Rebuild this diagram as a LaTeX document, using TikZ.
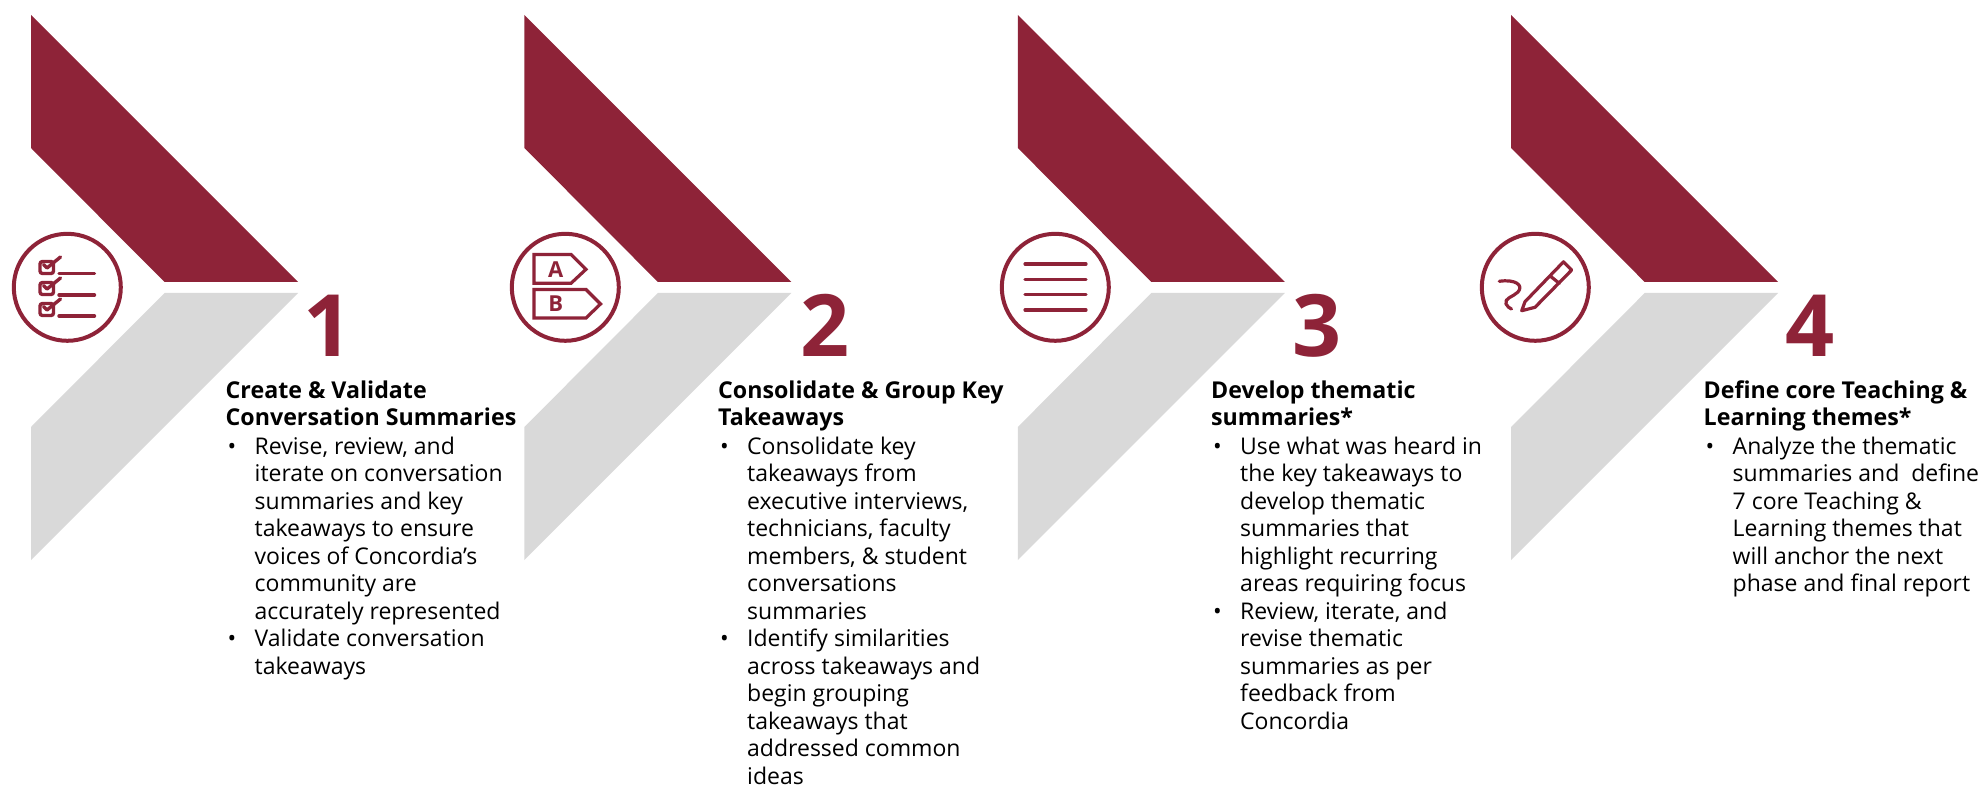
\documentclass[tikz,border=0pt]{standalone}
\usepackage{fontspec}
\setmainfont{Open Sans}
\definecolor{crim}{HTML}{8E2338}
\definecolor{lgray}{HTML}{D9D9D9}
\tikzset{
 x=1pt,y=-1pt,
 ring/.style={draw=crim,line width=4pt,fill=white,circle,minimum size=107pt,inner sep=0pt},
 numb/.style={text=crim,font=\fontsize{86}{86}\selectfont\bfseries,inner sep=0pt,anchor=center},
 body/.style={anchor=north west,inner sep=0pt,text=black,font=\fontsize{23}{27.5}\selectfont,align=left},
 head/.style={anchor=north west,inner sep=0pt,text=black,font=\fontsize{23.2}{27}\selectfont\bfseries,align=left},
 ico/.style={draw=crim,line width=3.2pt,line cap=round,line join=round},
 letter/.style={text=crim,font=\fontsize{22}{22}\selectfont\bfseries,inner sep=0pt},
}
\newcommand{\chev}[1]{%
 \begin{scope}[shift={(#1,0)}]
 \fill[crim] (31,15) -- (298,282) -- (164.5,282) -- (31,148) -- cycle;
 \fill[lgray] (298,293) -- (164.5,293) -- (31,427) -- (31,560) -- cycle;
 \end{scope}}
\newcommand{\bul}{\makebox[29pt][l]{\hspace{2pt}•}}
\newcommand{\ind}{\hspace*{29pt}}
\begin{document}
\begin{tikzpicture}
\path[use as bounding box] (0,0) rectangle (1986,786);
\chev{0}\chev{493.4}\chev{986.8}\chev{1480.2}
\node[ring] (c1) at (67.3,287.3) {};
\node[ring] (c2) at (565.3,287.3) {};
\node[ring] (c3) at (1055.3,287.3) {};
\node[ring] (c4) at (1535.3,287.3) {};
\node[numb] (n1) at (328,325.5) {1};
\node[numb] (n2) at (825.5,325.5) {2};
\node[numb] (n3) at (1317,325.5) {3};
\node[numb] (n4) at (1810,325.5) {4};
\node[head] (t1) at (225.5,380.5) {Create \& Validate\\Conversation Summaries};
\node[head] (t2) at (718,380.5) {Consolidate \& Group Key\\Takeaways};
\node[head] (t3) at (1211,380.5) {Develop thematic\\summaries*};
\node[head] (t4) at (1703.5,380.5) {Define core Teaching \&\\Learning themes*};
\node[body] (b1) at (225.5,436.8) {\bul Revise, review, and\\\ind iterate on conversation\\\ind summaries and key\\\ind takeaways to ensure\\\ind voices of Concordia’s\\\ind community are\\\ind accurately represented\\\bul Validate conversation\\\ind takeaways};
\node[body] (b2) at (718,436.8) {\bul Consolidate key\\\ind takeaways from\\\ind executive interviews,\\\ind technicians, faculty\\\ind members, \& student\\\ind conversations\\\ind summaries\\\bul Identify similarities\\\ind across takeaways and\\\ind begin grouping\\\ind takeaways that\\\ind addressed common\\\ind ideas};
\node[body] (b3) at (1211,436.8) {\bul Use what was heard in\\\ind the key takeaways to\\\ind develop thematic\\\ind summaries that\\\ind highlight recurring\\\ind areas requiring focus\\\bul Review, iterate, and\\\ind revise thematic\\\ind summaries as per\\\ind feedback from\\\ind Concordia};
\node[body] (b4) at (1703.5,436.8) {\bul Analyze the thematic\\\ind summaries and\ \ define\\\ind 7 core Teaching \&\\\ind Learning themes that\\\ind will anchor the next\\\ind phase and final report};
% icon 1
\foreach \y/\l in {260/273.3,281/295,302/316}{
 \draw[ico,line width=3.4pt,rounded corners=2.5pt] (40,\y+1.5) rectangle (53.5,\y+13.5);
 \draw[ico,line width=3.4pt] (43.5,\y+4.5) -- (47,\y+8) -- (60.5,\y-3);
 \draw[ico,line width=3.4pt] (59,\l) -- (94.5,\l);
}
% icon 2
\draw[ico,line cap=butt,line join=miter] (534,254.5) -- (571,254.5) -- (586,269.3) -- (571,283.3) -- (534,283.3) -- cycle;
\draw[ico,line cap=butt,line join=miter] (534,289.5) -- (586,289.5) -- (600.5,304) -- (586,318) -- (534,318) -- cycle;
\node[letter] (la) at (555.7,269.5) {A};
\node[letter] (lb) at (555.7,304) {B};
% icon 3
\foreach \y in {264,279.3,294.7,310}{\draw[ico] (1025,\y) -- (1086,\y);}
% icon 4
\draw[ico] (1521.7,310.7) -- (1525,301.7) -- (1563.5,261.8) -- (1571.7,270) -- (1535,307.3) -- cycle;
\draw[ico] (1551,276.7) -- (1559.3,283.3);
\draw[ico] (1499.3,281.3) .. controls (1515,279) and (1524,285) .. (1518,292) .. controls (1513,297) and (1504,298) .. (1506,304) .. controls (1507,307) and (1510,308) .. (1511.5,309);
\end{tikzpicture}
\end{document}
